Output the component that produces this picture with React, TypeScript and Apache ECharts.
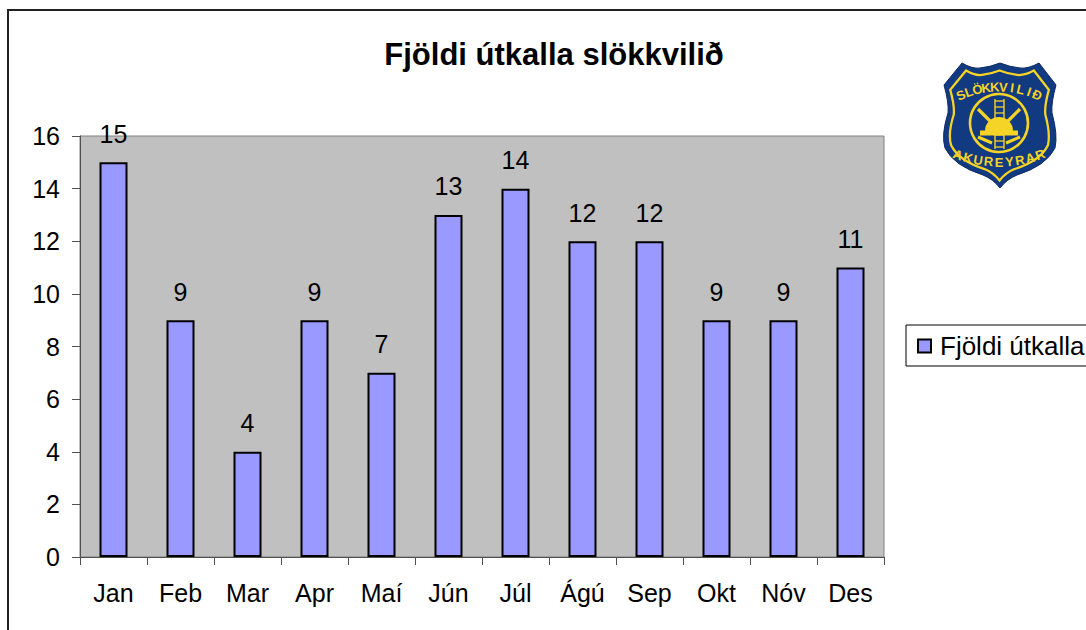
import React, { useEffect, useRef } from "react";
import * as echarts from "echarts";

const months = ["Jan", "Feb", "Mar", "Apr", "Maí", "Jún", "Júl", "Ágú", "Sep", "Okt", "Nóv", "Des"];
const calls = [15, 9, 4, 9, 7, 13, 14, 12, 12, 9, 9, 11];
const seriesName = "Fjöldi útkalla";
const chartTitle = "Fjöldi útkalla slökkvilið";
const FONT = '"Liberation Sans", Arial, sans-serif';

const LOGO_X = 942;
const LOGO_Y = 63;
const NAVY = "#123a80";
const GOLD = "#f5d327";

const shieldPath =
  "M20 0 Q30 6 38 5 Q48 4 58 0 Q68 4 78 5 Q86 6 97 0 L114 22 Q109 40 110 50 Q116 72 113 85 Q104 103 75 112 Q65 116 58 125 Q51 116 41 112 Q12 103 3 85 Q-1 72 6 50 Q7 40 2 22 Z";

function arcText(text: string, cx: number, cy: number, r: number, start: number, step: number, top: boolean) {
  return text.split("").map((ch, i) => {
    const a = start + i * step;
    const rad = (a * Math.PI) / 180;
    return {
      type: "text",
      x: cx + r * Math.sin(rad),
      y: cy - r * Math.cos(rad),
      rotation: top ? -rad : -(rad - Math.PI),
      z: 20,
      style: {
        text: ch,
        fill: GOLD,
        font: `bold 13px ${FONT}`,
        align: "center",
        verticalAlign: "middle",
      },
    };
  });
}

function seg(x1: number, y1: number, x2: number, y2: number, lineWidth: number) {
  return { type: "line", z: 20, shape: { x1, y1, x2, y2 }, style: { stroke: GOLD, lineWidth } };
}

export default function App() {
  const ref = useRef<HTMLDivElement>(null);
  useEffect(() => {
    document.body.style.margin = "0";
    document.body.style.overflow = "hidden";
    echarts.graphic.registerShape("slkShield", echarts.graphic.extendPath(shieldPath, {}));
    const chart = echarts.init(ref.current!, undefined, { renderer: "svg" });
    const cx = 57;
    const cy = 60;
    const rungs = [38, 44, 50, 72, 78, 84].map((y) => seg(53, y, 62, y, 1.3));
    chart.setOption({
      animation: false,
      backgroundColor: "#ffffff",
      textStyle: { fontFamily: FONT },
      title: {
        text: chartTitle,
        left: 549,
        top: 34,
        textAlign: "center",
        textStyle: { fontFamily: FONT, fontSize: 31, fontWeight: "bold", color: "#000" },
      },
      legend: {
        left: 906,
        top: 325,
        padding: [8, 40, 7, 11],
        backgroundColor: "#fff",
        borderColor: "#000",
        borderWidth: 1,
        borderRadius: 0,
        itemWidth: 13,
        itemHeight: 13,
        itemGap: 0,
        textStyle: { fontFamily: FONT, fontSize: 26, color: "#000", padding: [0, 0, 0, 4] },
        itemStyle: { borderColor: "#000", borderWidth: 2 },
        data: [{ name: seriesName, icon: "rect" }],
      },
      grid: {
        left: 80,
        right: 202,
        top: 136,
        bottom: 73,
        show: true,
        backgroundColor: "#c0c0c0",
        borderColor: "#808080",
        borderWidth: 1,
      },
      xAxis: {
        type: "category",
        data: months,
        axisLine: { lineStyle: { color: "#505050", width: 1 } },
        axisTick: { show: true, length: 8, lineStyle: { color: "#505050" } },
        axisLabel: { fontFamily: FONT, fontSize: 25, color: "#000", margin: 23, interval: 0 },
      },
      yAxis: {
        type: "value",
        min: 0,
        max: 16,
        interval: 2,
        splitLine: { show: false },
        axisLine: { show: true, lineStyle: { color: "#505050", width: 1 } },
        axisTick: { show: true, length: 8, lineStyle: { color: "#505050" } },
        axisLabel: { fontFamily: FONT, fontSize: 25, color: "#000", margin: 20 },
      },
      series: [
        {
          name: seriesName,
          type: "bar",
          data: calls,
          barWidth: 28,
          itemStyle: { color: "#9999ff", borderColor: "#000", borderWidth: 2 },
          label: {
            show: true,
            position: "top",
            distance: 16,
            fontFamily: FONT,
            fontSize: 25,
            color: "#000",
          },
        },
      ],
      graphic: [
        {
          type: "rect",
          z: -1,
          silent: true,
          shape: { x: 8, y: 10, width: 1200, height: 800 },
          style: { fill: "none", stroke: "#222", lineWidth: 2 },
        },
        {
          type: "group",
          x: LOGO_X,
          y: LOGO_Y,
          z: 20,
          silent: true,
          children: [
            { type: "slkShield", z: 20, style: { fill: NAVY, stroke: "#0c2a66", lineWidth: 1 } },
            {
              type: "slkShield",
              z: 20,
              x: 6.5,
              y: 7.5,
              scaleX: 0.88,
              scaleY: 0.88,
              style: { fill: "none", stroke: GOLD, lineWidth: 2.6 },
            },
            {
              type: "circle",
              z: 20,
              shape: { cx, cy, r: 29 },
              style: { fill: NAVY, stroke: GOLD, lineWidth: 2.6 },
            },
            seg(53, 36, 53, 86, 1.4),
            seg(62, 36, 62, 86, 1.4),
            ...rungs,
            seg(36, 46, 48, 58, 3.2),
            seg(78, 46, 66, 58, 3.2),
            seg(36, 74, 50, 80, 3),
            seg(78, 74, 64, 80, 3),
            seg(38, 70, 76, 70, 5),
            {
              type: "sector",
              z: 20,
              shape: { cx: 57, cy: 68, r: 14, r0: 0, startAngle: Math.PI, endAngle: 2 * Math.PI },
              style: { fill: GOLD },
            },
            ...arcText("SLÖKKVILIÐ", 57, 118, 94, -24, 5.33, true),
            ...arcText("AKUREYRAR", 57, -21, 120, 200, -5, false),
          ],
        },
      ],
    });
    return () => chart.dispose();
  }, []);
  return <div ref={ref} style={{ position: "absolute", left: 0, top: 0, width: 1086, height: 630 }} />;
}
